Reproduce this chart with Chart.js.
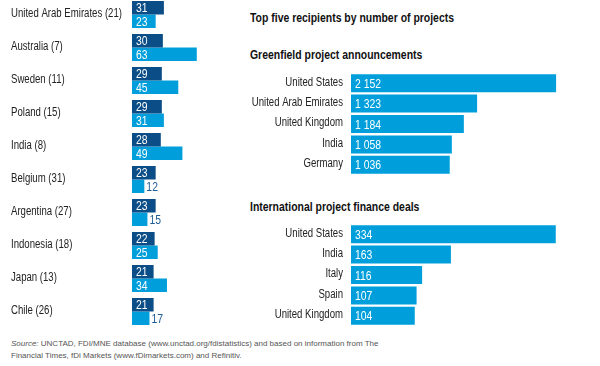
<!DOCTYPE html>
<html>
<head>
<meta charset="utf-8">
<script src="https://cdn.jsdelivr.net/npm/chart.js@4"></script>
<style>
  body { margin: 0; width: 600px; height: 366px; background: #fff; position: relative; overflow: hidden;
         font-family: 'Liberation Sans', Arial, sans-serif; }
  canvas { position: absolute; }
  .head { position: absolute; font-weight: bold; font-size: 12px; color: #111; white-space: nowrap;
          transform: scaleX(0.87); transform-origin: 0 0; }
  .src { position: absolute; left: 11px; top: 338px; font-size: 8px; line-height: 12px; color: #555; white-space: nowrap; }
</style>
</head>
<body>
<canvas id="leftChart" width="240" height="330" style="left:0;top:-2px"></canvas>
<div class="head" style="left:250px;top:11px">Top five recipients by number of projects</div>
<div class="head" style="left:250px;top:48px">Greenfield project announcements</div>
<canvas id="greenChart" width="355" height="102" style="left:240px;top:73px"></canvas>
<div class="head" style="left:250px;top:200px">International project finance deals</div>
<canvas id="financeChart" width="355" height="102" style="left:240px;top:224px"></canvas>
<div class="src"><i>Source:</i> UNCTAD, FDI/MNE database (www.unctad.org/fdistatistics) and based on information from The<br>Financial Times, fDi Markets (www.fDimarkets.com) and Refinitiv.</div>

<script>
// left panel
const countries = ['United Arab Emirates (21)', 'Australia (7)', 'Sweden (11)', 'Poland (15)', 'India (8)',
  'Belgium (31)', 'Argentina (27)', 'Indonesia (18)', 'Japan (13)', 'Chile (26)'];
const darkValues = [31, 30, 29, 29, 28, 23, 23, 22, 21, 21];
const lightValues = [23, 63, 45, 31, 49, 12, 15, 25, 34, 17];

// right panels
const greenfieldCountries = ['United States', 'United Arab Emirates', 'United Kingdom', 'India', 'Germany'];
const greenfieldValues = [2152, 1323, 1184, 1058, 1036];
const financeCountries = ['United States', 'India', 'Italy', 'Spain', 'United Kingdom'];
const financeValues = [334, 163, 116, 107, 104];

const DARK = '#0b4d86';
const LIGHT = '#009fdc';
const FONT = "'Liberation Sans', Arial, sans-serif";
const NARROW = 0.8; // no condensed font installed, squeeze the canvas text instead

function fmt(v) {
  return String(v).replace(/\B(?=(\d{3})+(?!\d))/g, ' ');
}

function narrowText(ctx, txt, x, y, align) {
  ctx.save();
  ctx.translate(x, y);
  ctx.scale(NARROW, 1);
  ctx.textAlign = align;
  ctx.fillText(txt, 0, 0);
  ctx.restore();
}

// value at the start of each bar, or just after it when the bar is too short
const valueLabels = {
  id: 'valueLabels',
  afterDatasetsDraw(chart) {
    const ctx = chart.ctx;
    ctx.save();
    ctx.font = '13px ' + FONT;
    ctx.textBaseline = 'middle';
    chart.data.datasets.forEach((ds, i) => {
      chart.getDatasetMeta(i).data.forEach((bar, j) => {
        const txt = fmt(ds.data[j]);
        const w = ctx.measureText(txt).width * NARROW;
        if (bar.x - bar.base < w + 8) {
          ctx.fillStyle = '#1d5c96';
          narrowText(ctx, txt, bar.x + 2, bar.y + 1, 'left');
        } else {
          ctx.fillStyle = '#fff';
          narrowText(ctx, txt, bar.base + 4, bar.y + 1, 'left');
        }
      });
    });
    ctx.restore();
  }
};

// category names, placed by the y scale
const categoryLabels = {
  id: 'categoryLabels',
  afterDraw(chart, args, opts) {
    const ctx = chart.ctx;
    const scale = chart.scales.y;
    ctx.save();
    ctx.font = '12px ' + FONT;
    ctx.fillStyle = '#222';
    ctx.textBaseline = 'middle';
    chart.data.labels.forEach((lab, i) => {
      const y = scale.getPixelForTick(i) + opts.dy;
      if (opts.side === 'left') narrowText(ctx, lab, scale.left, y, 'left');
      else narrowText(ctx, lab, scale.right - 8, y, 'right');
    });
    ctx.restore();
  }
};

new Chart(document.getElementById('leftChart'), {
  type: 'bar',
  data: {
    labels: countries,
    datasets: [
      { data: darkValues, backgroundColor: DARK },
      { data: lightValues, backgroundColor: LIGHT }
    ]
  },
  options: {
    indexAxis: 'y',
    responsive: false,
    animation: false,
    categoryPercentage: 0.82,
    barPercentage: 1,
    layout: { padding: { left: 11, top: 0, bottom: 0, right: 0 } },
    plugins: {
      legend: { display: false },
      tooltip: { enabled: false },
      categoryLabels: { side: 'left', dy: -1 }
    },
    scales: {
      x: { display: false, min: 0, max: 105 },
      y: {
        grid: { display: false },
        border: { display: false },
        ticks: { display: false },
        afterFit(scale) { scale.width = 121; }
      }
    }
  },
  plugins: [valueLabels, categoryLabels]
});

function topFive(id, labels, values, max) {
  new Chart(document.getElementById(id), {
    type: 'bar',
    data: { labels: labels, datasets: [{ data: values, backgroundColor: LIGHT }] },
    options: {
      indexAxis: 'y',
      responsive: false,
      animation: false,
      categoryPercentage: 0.88,
      barPercentage: 1,
      layout: { padding: 0 },
      plugins: {
        legend: { display: false },
        tooltip: { enabled: false },
        categoryLabels: { side: 'right', dy: -1 }
      },
      scales: {
        x: { display: false, min: 0, max: max },
        y: {
          grid: { display: false },
          border: { display: false },
          ticks: { display: false },
          afterFit(scale) { scale.width = 111; }
        }
      }
    },
    plugins: [valueLabels, categoryLabels]
  });
}

topFive('greenChart', greenfieldCountries, greenfieldValues, 2560);
topFive('financeChart', financeCountries, financeValues, 398);
</script>
</body>
</html>
